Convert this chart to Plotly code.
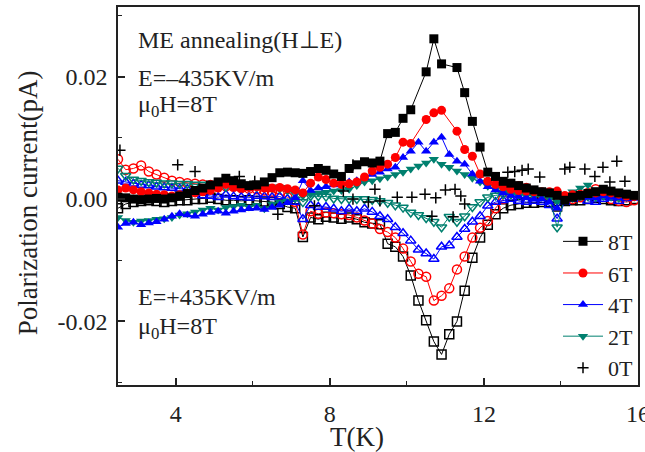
import plotly.graph_objects as go

# Temperature grid (K)
T = [2.5, 2.7, 2.9, 3.1, 3.3, 3.5, 3.7, 3.9, 4.1, 4.3,
     4.5, 4.7, 4.9, 5.1, 5.3, 5.5, 5.7, 5.9, 6.1, 6.3,
     6.5, 6.7, 6.9, 7.1, 7.3, 7.5, 7.7, 7.9, 8.1, 8.3,
     8.5, 8.7, 8.9, 9.1, 9.3, 9.5, 9.7, 9.9, 10.1, 10.3,
     10.5, 10.7, 10.9, 11.1, 11.3, 11.5, 11.7, 11.9, 12.1, 12.3,
     12.5, 12.7, 12.9, 13.1, 13.3, 13.5, 13.7, 13.9, 14.1, 14.3,
     14.5, 14.7, 14.9, 15.1, 15.3, 15.5, 15.7, 15.9]

# Polarization current in units of 1e-3 pA
# E = -435 kV/m (filled symbols)
neg_8T = [0.3, 0.2, 0.0, -0.1, 0.0, 0.1, 0.0, 0.2, 0.5, 0.9,
          1.4, 1.8, 2.3, 2.8, 3.4, 3.0, 2.5, 2.2, 2.3, 2.8,
          3.5, 4.3, 4.4, 4.3, 4.2, 4.5, 5.0, 4.7, 4.1, 3.7,
          5.0, 5.6, 6.1, 5.9, 6.2, 10.7, 10.9, 13.2, 14.6, None,
          20.8, 26.2, 22.1, None, 21.5, 17.4, 12.7, 8.5, 4.4, 3.7,
          2.9, 2.6, 2.2, 1.8, 1.5, 1.2, 1.0, 0.6, -0.2, 0.3,
          0.6, 0.9, 1.2, 1.6, 1.3, 1.0, 0.8, 0.6]
neg_6T = [1.5, 1.8, 1.5, 1.2, 1.0, 0.8, 0.7, 0.5, 0.7, 0.9,
          1.0, 1.2, 1.4, 1.8, 2.4, 2.0, 1.8, 1.9, 2.0, 1.8,
          1.8, 1.9, 1.7, 1.5, 1.0, 2.6, 3.6, 3.2, 2.6, 2.4,
          2.5, 2.8, 3.6, 4.6, 5.2, 5.7, 6.8, 9.3, 9.1, None,
          13.0, 14.1, 14.5, None, 11.1, 8.1, 7.0, 4.1, 2.9, 2.4,
          2.0, 1.6, 1.4, 1.3, 1.2, 1.2, 1.2, 1.3, 0.6, 0.7,
          0.8, 0.9, 1.0, 1.2, 1.0, 0.8, 0.5, 0.4]
neg_4T = [-4.6, -4.0, -3.8, -4.2, -3.9, -3.7, -3.3, -2.8, -2.4, -2.6,
          -2.8, -2.5, -2.2, -2.0, -2.3, -2.0, -1.8, -1.6, -1.5, -1.7,
          -1.4, -1.0, -0.6, 0.2, 3.0, 1.4, 1.8, 2.0, 2.3, 2.5,
          2.8, 3.0, 3.5, 4.0, 4.4, 4.9, 5.2, 6.8, 7.8, 9.3,
          7.8, 9.3, 10.1, 7.3, 6.2, 5.7, 4.1, 2.9, 2.0, 1.5,
          1.0, 0.6, 0.4, 0.2, 0.0, 0.0, -0.5, -1.5, 0.0, 0.3,
          0.5, 0.3, 0.2, 0.5, 0.3, 0.2, 0.0, 0.2]
neg_2T = [-3.0, -3.5, -3.8, -3.6, -3.5, -3.3, -3.2, -3.0, -2.6, -2.4,
          -2.1, -1.8, -1.5, -1.8, -1.4, -1.2, -1.0, -1.3, -1.0, -1.6,
          -0.8, -0.5, -0.3, 0.0, 0.5, 0.8, 1.0, 1.1, 1.3, 1.4,
          1.6, 2.2, 2.8, 3.0, 3.3, 3.6, 4.0, 4.4, 4.9, 5.4,
          5.9, 6.5, 5.7, 5.2, 4.6, 4.0, 3.4, 2.8, 2.1, 1.6,
          1.2, 1.0, 0.8, 0.6, 0.5, 0.5, 0.3, -0.5, 0.5, 1.2,
          1.8, 2.3, 1.5, 1.0, 0.6, 0.8, 1.0, 0.7]

# E = +435 kV/m (open symbols)
pos_8T = [-1.5, -0.8, -0.5, -0.3, -0.2, -0.3, -0.5, -0.3, -0.2, -0.2,
          0.0, 0.0, 0.2, 0.0, -0.2, -0.2, -0.3, -0.2, -0.3, -0.4,
          -0.5, -0.8, -1.3, -1.5, -6.2, -3.0, -3.3, -2.9, -3.0, -3.2,
          -3.0, -3.3, -3.8, -4.0, -4.1, -7.3, -7.8, -9.4, -12.5, -16.6,
          -19.8, -23.3, -25.4, -22.1, -20.0, -15.0, -9.6, -6.3, -4.2, -2.5,
          -1.5, -1.0, -0.8, -0.6, -0.6, -0.5, -0.5, -1.2, -0.3, -0.2,
          -0.2, 0.0, 0.2, 0.0, -0.2, -0.3, -0.2, 0.0]
pos_6T = [6.5, 4.8, 5.0, 5.5, 4.5, 4.0, 3.5, 3.0, 2.8, 2.6,
          2.5, 2.4, 2.3, 2.2, 2.1, 2.0, 1.8, 1.7, 1.6, 1.4,
          1.2, 0.8, 0.3, -0.5, -5.8, -2.0, -2.4, -2.2, -2.3, -2.5,
          -2.6, -3.0, -3.5, -4.0, -4.9, -5.4, -6.3, -8.1, -10.2, -12.2,
          -12.7, -16.6, -15.8, -14.6, -11.5, -9.4, -6.3, -4.7, -3.6, -1.5,
          0.0, 1.5, 2.1, 1.8, 1.2, 0.8, 0.5, 0.3, 0.2, 0.0,
          0.3, 1.0, 1.6, 1.0, 0.0, -0.3, -0.5, -0.2]
pos_4T = [3.0, 2.8, 2.5, 2.3, 2.2, 2.0, 1.9, 1.8, 1.7, 1.6,
          1.0, 0.6, 0.5, 0.3, 0.7, 0.4, 0.3, 0.2, 0.5, 0.4,
          0.3, 0.4, 0.0, -0.5, -3.3, -1.0, -1.3, -1.3, -1.6, -2.0,
          -1.6, -2.0, -1.6, -2.1, -2.8, -3.3, -4.6, -5.6, -6.8, -8.3,
          -8.9, -9.8, -7.8, -7.6, -6.2, -4.9, -3.7, -2.8, -1.1, -0.5,
          -0.2, 0.0, -0.3, -0.5, -0.3, -0.5, -1.0, -3.2, -0.5, 0.0,
          0.8, -0.3, -0.5, 0.0, 0.2, -0.3, 0.3, 0.2]
pos_2T = [5.0, 3.8, 3.2, 3.0, 2.8, 2.7, 2.6, 2.6, 2.5, 2.5,
          2.4, 2.4, 2.3, 2.2, 2.0, 2.2, 2.0, 2.0, 2.0, 2.0,
          1.9, 1.8, 1.5, 1.0, -0.5, 0.5, 0.5, 0.4, 0.1, 0.0,
          0.0, 0.0, 0.0, -0.1, -0.3, -0.6, -1.0, -1.4, -2.2, -2.6,
          -3.1, -3.7, -4.6, -2.9, -3.7, -2.8, -1.3, -0.5, 0.3, 0.6,
          0.8, 0.8, 0.7, 0.7, 0.6, 0.5, 0.2, -4.6, 0.5, 0.3,
          0.6, 0.5, 0.4, 0.6, 0.5, 0.3, 0.4, 0.5]

# 0 T (crosses)
T_0T = [2.55, 4.05, 4.5, 5.65, 6.05, 6.65, 7.6, 8.35, 8.6, 8.6,
        9.0, 9.17, 9.3, 9.75, 10.13, 10.47, 10.65, 10.75, 11.0, 11.2,
        11.25, 11.4, 11.5, 12.62, 12.8, 12.99, 13.15, 13.45, 14.1, 14.23,
        14.62, 14.88, 15.09, 15.27, 15.45, 15.66]
I_0T = [8.0, 5.6, 4.5, 3.7, 2.9, -2.5, -1.1, 1.3, 5.6, 0.0,
        -0.5, 1.6, -0.3, 0.3, 0.3, 0.8, -2.8, 0.2, 1.5, -2.9,
        1.6, 0.5, -0.8, 4.4, 4.5, 4.7, 4.9, 3.6, 4.9, 5.2,
        4.9, 3.7, 5.2, 2.8, 6.2, 2.9]

FIELDS = ["8T", "6T", "4T", "2T"]
COLORS = ["#000000", "#ff0000", "#0000ff", "#00806f"]
FILLED = ["square", "circle", "triangle-up", "triangle-down"]
OPEN = ["square-open", "circle-open", "triangle-up-open", "triangle-down-open"]
NEG = [neg_8T, neg_6T, neg_4T, neg_2T]
POS = [pos_8T, pos_6T, pos_4T, pos_2T]


def to_pA(vals):
    return [None if v is None else v * 1e-3 for v in vals]


FONT = "Liberation Serif, Times New Roman, serif"
fig = go.Figure()

for i in range(4):
    fig.add_trace(go.Scatter(
        x=T, y=to_pA(POS[i]), mode="lines+markers", connectgaps=True,
        line=dict(color=COLORS[i], width=1),
        marker=dict(symbol=OPEN[i], size=9, color=COLORS[i],
                    line=dict(width=1.5, color=COLORS[i])),
        showlegend=False, hoverinfo="skip"))

for i in reversed(range(4)):
    fig.add_trace(go.Scatter(
        x=T, y=to_pA(NEG[i]), mode="lines+markers", connectgaps=True,
        name=FIELDS[i], legendrank=i + 1,
        line=dict(color=COLORS[i], width=1),
        marker=dict(symbol=FILLED[i], size=9, color=COLORS[i],
                    line=dict(width=0))))

fig.add_trace(go.Scatter(
    x=T_0T, y=to_pA(I_0T), mode="markers", name="0T", legendrank=5,
    marker=dict(symbol="cross-thin", size=8, color="black",
                line=dict(width=1.5, color="black"))))

axis_common = dict(
    showline=True, mirror=True, linecolor="#222", linewidth=1.5,
    showgrid=False, zeroline=False, ticks="inside", ticklen=7,
    tickwidth=1.5, tickcolor="#222", automargin=False,
    ticklabeloverflow="allow",
    tickfont=dict(family=FONT, size=24, color="#222"),
)

fig.update_layout(
    width=645, height=452,
    margin=dict(l=118, r=7, t=7, b=67),
    paper_bgcolor="white", plot_bgcolor="white",
    font=dict(family=FONT, color="#222"),
    xaxis=dict(range=[2.5, 16], tickmode="array", tickvals=[4, 8, 12, 16],
               ticktext=["4", "8", "12", "16"],
               minor=dict(tickvals=[6, 10, 14], ticks="inside", ticklen=4,
                          tickwidth=1.2, tickcolor="#222"),
               ticklabelstandoff=6,
               **axis_common),
    yaxis=dict(range=[-0.0304, 0.0314], tickmode="array",
               tickvals=[-0.02, 0.0, 0.02], ticktext=["-0.02", "0.00", "0.02"],
               minor=dict(tickvals=[-0.03, -0.01, 0.01, 0.03], ticks="inside",
                          ticklen=4, tickwidth=1.2, tickcolor="#222"),
               ticklabelstandoff=4,
               **axis_common),
    legend=dict(x=1.0, xanchor="right", y=0.435, yanchor="top",
                bgcolor="rgba(0,0,0,0)", borderwidth=0,
                font=dict(family=FONT, size=22, color="#222"),
                tracegroupgap=0, itemwidth=40),
    showlegend=True,
)

title_font = dict(family=FONT, size=27, color="#222")
fig.add_annotation(text="T(K)", xref="paper", yref="paper", x=0.46, y=-0.1376,
                   xanchor="center", yanchor="middle", showarrow=False,
                   font=title_font)
fig.add_annotation(text="Polarization current(pA)", xref="paper", yref="paper",
                   x=-0.173, y=0.481, xanchor="center", yanchor="middle",
                   textangle=-90, showarrow=False, font=title_font)

ann_font = dict(family=FONT, size=24, color="#222")
texts = [
    ("ME annealing(H\u22a5E)", 0.9127),
    ("E=\u2013435KV/m", 0.812),
    ("\u03bc<sub>0</sub>H=8T", 0.737),
    ("E=+435KV/m", 0.233),
    ("\u03bc<sub>0</sub>H=8T", 0.152),
]
for txt, yp in texts:
    fig.add_annotation(text=txt, xref="paper", yref="paper", x=0.034, y=yp,
                       xanchor="left", yanchor="middle", showarrow=False,
                       font=ann_font)

fig.write_html(
    "out.html",
    config={"displayModeBar": False},
    post_script="document.body.style.margin='0';document.body.style.padding='0';",
)
